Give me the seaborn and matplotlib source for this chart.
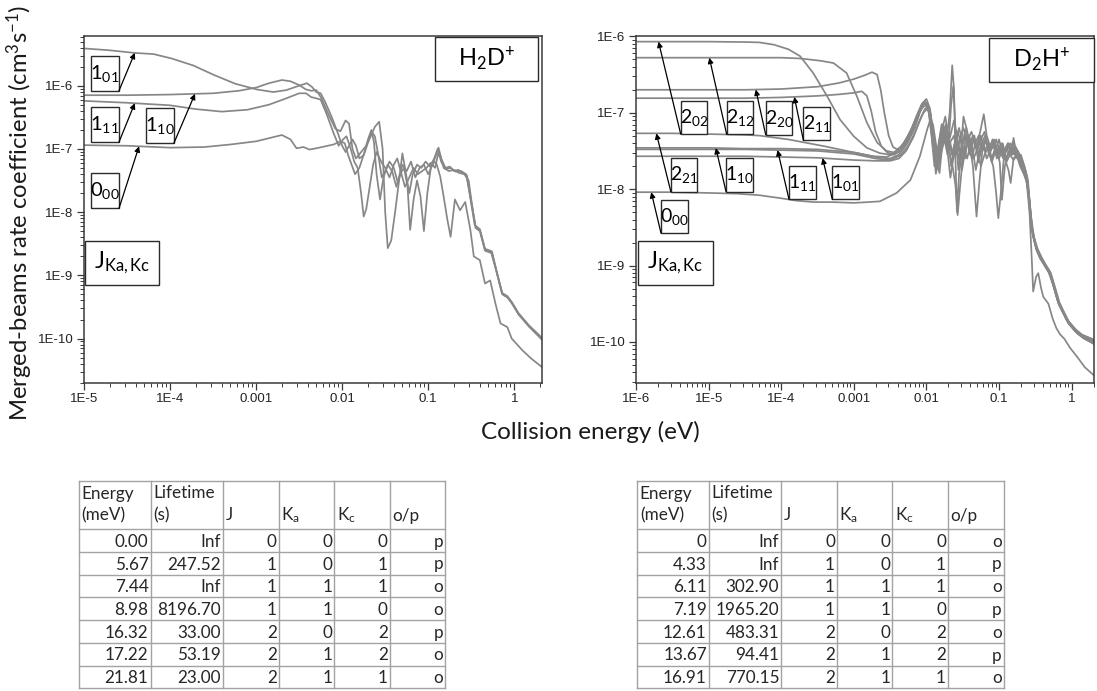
import numpy as np
import pandas as pd
import matplotlib
matplotlib.use("Agg")
import matplotlib.pyplot as plt
import seaborn as sns
from matplotlib.ticker import FixedLocator, FixedFormatter, LogLocator, NullFormatter
from matplotlib.patches import Rectangle

# ---------------------------------------------------------------------------
# Merged-beams rate coefficients, stored as log10(energy / eV), log10(k / cm^3 s^-1)
# ---------------------------------------------------------------------------

# H2D+ panel
h2d_101_logE = [-5.0, -4.7, -4.42, -4.19, -3.98, -3.73, -3.49, -3.24, -2.99, -2.80, -2.65, -2.50, -2.41, -2.35,
                -2.30, -2.25, -2.20, -2.12, -2.05, -2.00, -1.96, -1.92, -1.88, -1.84, -1.80, -1.75, -1.70, -1.62,
                -1.57, -1.53, -1.50, -1.47, -1.43, -1.38, -1.33, -1.30, -1.27, -1.22, -1.18, -1.13, -1.08, -1.03,
                -0.98, -0.93, -0.89, -0.86, -0.82, -0.76, -0.70, -0.64, -0.58, -0.53, -0.50, -0.45, -0.40, -0.34,
                -0.26, -0.20, -0.14, -0.08, -0.03, 0.05, 0.17, 0.33]
h2d_101_logk = [-5.41, -5.44, -5.48, -5.50, -5.57, -5.68, -5.83, -5.97, -6.06, -6.10, -6.07, -6.00, -5.96, -6.02,
                -6.10, -6.12, -6.25, -6.50, -6.75, -6.95, -7.05, -6.95, -6.85, -6.95, -7.15, -7.10, -6.90, -6.65,
                -6.57, -7.00, -8.00, -8.57, -8.45, -7.95, -7.40, -7.07, -7.30, -7.70, -7.40, -7.25, -7.30, -7.20,
                -7.28, -7.15, -7.00, -7.10, -7.30, -7.35, -7.33, -7.38, -7.40, -7.50, -7.80, -8.25, -8.30, -8.61,
                -8.65, -8.98, -9.30, -9.35, -9.44, -9.62, -9.81, -10.03]

h2d_110_logE = [-5.0, -4.5, -4.0, -3.5, -3.2, -3.0, -2.85, -2.70, -2.60, -2.50, -2.42, -2.36, -2.30, -2.24,
                -2.16, -2.08, -2.02, -1.96, -1.92, -1.88, -1.84, -1.78, -1.72, -1.66, -1.62, -1.58, -1.54, -1.50,
                -1.45, -1.40, -1.35, -1.30, -1.25, -1.20, -1.15, -1.10, -1.05, -1.00, -0.95, -0.91, -0.88, -0.85,
                -0.80, -0.75, -0.70, -0.65, -0.60, -0.55, -0.51, -0.45, -0.40, -0.34, -0.26, -0.20, -0.14, -0.08,
                -0.03, 0.05, 0.17, 0.33]
h2d_110_logk = [-6.15, -6.15, -6.14, -6.12, -6.08, -6.03, -5.96, -5.91, -5.93, -5.99, -6.06, -6.08, -6.07, -6.20,
                -6.45, -6.68, -6.72, -6.55, -6.60, -7.00, -7.15, -7.05, -6.95, -6.72, -6.80, -7.10, -7.45, -7.35,
                -7.20, -7.30, -7.55, -7.25, -7.35, -7.20, -7.45, -7.30, -7.25, -7.40, -7.25, -7.10, -6.98, -7.15,
                -7.30, -7.28, -7.35, -7.33, -7.38, -7.42, -7.76, -8.22, -8.27, -8.58, -8.62, -8.96, -9.28, -9.33,
                -9.42, -9.60, -9.79, -10.00]

h2d_111_logE = [-5.0, -4.5, -4.0, -3.7, -3.4, -3.1, -2.85, -2.65, -2.50, -2.42, -2.36, -2.30, -2.25, -2.18,
                -2.10, -2.04, -1.99, -1.95, -1.90, -1.86, -1.82, -1.78, -1.75, -1.72, -1.68, -1.64, -1.60, -1.54,
                -1.50, -1.45, -1.40, -1.36, -1.32, -1.27, -1.22, -1.17, -1.12, -1.07, -1.02, -0.97, -0.92, -0.88,
                -0.85, -0.80, -0.74, -0.68, -0.62, -0.56, -0.52, -0.46, -0.40, -0.34, -0.27, -0.20, -0.14, -0.08,
                -0.03, 0.05, 0.17, 0.33]
h2d_111_logk = [-6.24, -6.27, -6.31, -6.37, -6.41, -6.38, -6.30, -6.20, -6.12, -6.12, -6.18, -6.20, -6.22, -6.45,
                -6.75, -6.95, -6.85, -6.80, -7.00, -7.20, -7.30, -7.70, -8.07, -7.95, -7.60, -7.25, -7.05, -7.22,
                -7.30, -7.45, -7.25, -7.15, -7.35, -7.60, -7.45, -7.30, -7.40, -7.35, -7.30, -7.22, -7.30, -7.05,
                -7.20, -7.32, -7.30, -7.36, -7.35, -7.40, -7.70, -8.20, -8.28, -8.60, -8.63, -8.97, -9.29, -9.34,
                -9.43, -9.61, -9.80, -10.01]

h2d_000_logE = [-5.0, -4.5, -4.0, -3.6, -3.3, -3.0, -2.85, -2.70, -2.60, -2.53, -2.45, -2.38, -2.30, -2.20,
                -2.10, -2.02, -1.97, -1.93, -1.89, -1.85, -1.80, -1.74, -1.70, -1.66, -1.63, -1.60, -1.56, -1.52,
                -1.47, -1.42, -1.37, -1.33, -1.28, -1.24, -1.21, -1.17, -1.13, -1.09, -1.05, -1.01, -0.97, -0.93,
                -0.90, -0.86, -0.82, -0.78, -0.74, -0.69, -0.63, -0.57, -0.51, -0.47, -0.40, -0.34, -0.28, -0.22,
                -0.16, -0.08, -0.03, 0.09, 0.20, 0.33]
h2d_000_logk = [-6.94, -6.95, -6.98, -6.97, -6.93, -6.88, -6.83, -6.78, -6.85, -6.99, -6.97, -7.01, -6.99, -6.96,
                -6.93, -6.88, -6.91, -7.10, -7.25, -7.40, -7.30, -7.05, -6.85, -6.70, -6.90, -7.40, -7.80, -7.45,
                -7.25, -7.35, -7.60, -7.40, -7.30, -7.60, -8.28, -7.80, -7.50, -7.75, -8.30, -7.70, -7.30, -7.20,
                -7.25, -7.44, -7.76, -8.10, -8.39, -7.80, -7.97, -7.84, -8.28, -8.70, -8.76, -9.13, -9.08, -9.44,
                -9.76, -9.82, -10.00, -10.18, -10.32, -10.46]

# D2H+ panel
d2h_202_logE = [-6.0, -5.5, -5.0, -4.5, -4.3, -4.1, -3.9, -3.74, -3.56, -3.37, -3.19, -3.00, -2.82, -2.64,
                -2.50, -2.40, -2.30, -2.20, -2.12, -2.06, -2.00, -1.95, -1.90, -1.86, -1.82, -1.78, -1.74, -1.70,
                -1.65, -1.60, -1.55, -1.50, -1.45, -1.40, -1.35, -1.30, -1.25, -1.20, -1.15, -1.10, -1.05, -1.00,
                -0.95, -0.90, -0.85, -0.80, -0.75, -0.70, -0.65, -0.61, -0.57, -0.53, -0.48, -0.42, -0.36, -0.30,
                -0.24, -0.18, -0.12, -0.05, 0.05, 0.15, 0.31]
d2h_202_logk = [-6.07, -6.07, -6.07, -6.075, -6.08, -6.11, -6.17, -6.26, -6.48, -6.78, -7.09, -7.31, -7.46, -7.53,
                -7.55, -7.50, -7.38, -7.20, -7.02, -6.88, -6.82, -6.95, -7.40, -7.75, -7.50, -7.20, -7.05, -7.30,
                -7.55, -7.35, -7.20, -7.40, -7.30, -7.55, -7.35, -7.45, -7.30, -7.50, -7.40, -7.60, -7.45, -7.55,
                -7.40, -7.60, -7.50, -7.45, -7.60, -7.55, -7.70, -7.85, -8.40, -8.60, -8.80, -8.90, -9.00, -9.10,
                -9.30, -9.50, -9.60, -9.74, -9.85, -9.93, -10.00]

d2h_212_logE = [-6.0, -5.0, -4.5, -4.0, -3.74, -3.46, -3.28, -3.10, -2.96, -2.82, -2.68, -2.55, -2.45, -2.35,
                -2.25, -2.15, -2.08, -2.03, -1.98, -1.94, -1.90, -1.86, -1.82, -1.77, -1.72, -1.68, -1.645, -1.62,
                -1.60, -1.58, -1.55, -1.50, -1.45, -1.40, -1.35, -1.30, -1.25, -1.20, -1.15, -1.10, -1.05, -1.00,
                -0.95, -0.90, -0.85, -0.80, -0.75, -0.70, -0.65, -0.60, -0.56, -0.52, -0.47, -0.41, -0.35, -0.29,
                -0.23, -0.17, -0.11, -0.04, 0.06, 0.16, 0.31]
d2h_212_logk = [-6.28, -6.28, -6.28, -6.28, -6.29, -6.32, -6.35, -6.48, -6.78, -7.13, -7.39, -7.50, -7.52, -7.45,
                -7.30, -7.10, -6.95, -6.88, -6.92, -7.10, -7.50, -7.65, -7.35, -7.15, -7.35, -7.00, -6.38, -6.70,
                -7.60, -8.30, -7.80, -7.40, -7.20, -7.40, -7.30, -7.50, -7.35, -7.25, -7.45, -7.40, -7.50, -7.35,
                -7.55, -7.45, -7.55, -7.40, -7.50, -7.62, -7.72, -7.90, -8.45, -8.65, -8.82, -8.92, -9.02, -9.12,
                -9.32, -9.52, -9.62, -9.76, -9.87, -9.95, -10.02]

d2h_220_logE = [-6.0, -5.0, -4.5, -4.0, -3.5, -3.2, -3.0, -2.85, -2.75, -2.68, -2.63, -2.58, -2.52, -2.46,
                -2.40, -2.32, -2.22, -2.14, -2.07, -2.02, -1.97, -1.93, -1.89, -1.85, -1.80, -1.75, -1.70, -1.66,
                -1.63, -1.60, -1.56, -1.52, -1.47, -1.42, -1.37, -1.33, -1.28, -1.23, -1.18, -1.13, -1.08, -1.03,
                -0.98, -0.93, -0.88, -0.83, -0.78, -0.73, -0.68, -0.63, -0.59, -0.55, -0.50, -0.45, -0.39, -0.33,
                -0.27, -0.21, -0.15, -0.09, -0.02, 0.08, 0.18, 0.31]
d2h_220_logk = [-6.70, -6.70, -6.70, -6.69, -6.66, -6.61, -6.56, -6.51, -6.47, -6.50, -6.70, -7.00, -7.30, -7.45,
                -7.48, -7.42, -7.25, -7.05, -6.90, -6.85, -6.98, -7.30, -7.70, -7.55, -7.25, -7.35, -7.50, -6.90,
                -6.65, -7.20, -7.75, -7.50, -7.25, -7.45, -7.60, -7.40, -7.30, -7.50, -7.35, -7.50, -7.40, -7.60,
                -7.45, -7.50, -7.40, -7.55, -7.45, -7.58, -7.65, -7.78, -8.10, -8.50, -8.72, -8.85, -8.95, -9.05,
                -9.18, -9.38, -9.55, -9.66, -9.78, -9.89, -9.96, -10.03]

d2h_211_logE = [-6.0, -5.0, -4.5, -4.0, -3.5, -3.2, -3.0, -2.89, -2.82, -2.76, -2.70, -2.62, -2.54, -2.45,
                -2.35, -2.25, -2.16, -2.09, -2.04, -1.99, -1.95, -1.91, -1.87, -1.83, -1.78, -1.73, -1.68, -1.62,
                -1.58, -1.54, -1.49, -1.44, -1.39, -1.34, -1.29, -1.24, -1.19, -1.14, -1.09, -1.04, -0.99, -0.94,
                -0.89, -0.84, -0.79, -0.74, -0.69, -0.64, -0.60, -0.56, -0.52, -0.47, -0.41, -0.35, -0.29, -0.23,
                -0.17, -0.11, -0.04, 0.06, 0.16, 0.31]
d2h_211_logk = [-6.81, -6.81, -6.81, -6.80, -6.78, -6.76, -6.74, -6.72, -6.78, -6.98, -7.25, -7.44, -7.52, -7.55,
                -7.50, -7.35, -7.15, -6.98, -6.92, -6.90, -7.05, -7.40, -7.80, -7.60, -7.30, -7.15, -7.40, -7.30,
                -7.55, -7.35, -7.20, -7.35, -7.50, -7.30, -7.55, -7.40, -7.30, -7.55, -7.45, -7.35, -7.50, -7.60,
                -7.45, -7.40, -7.55, -7.50, -7.60, -7.75, -7.95, -8.35, -8.62, -8.78, -8.90, -9.00, -9.09, -9.28,
                -9.48, -9.60, -9.73, -9.84, -9.92, -9.99]

d2h_221_logE = [-6.0, -5.5, -5.0, -4.5, -4.3, -3.9, -3.4, -3.0, -2.73, -2.55, -2.42, -2.30, -2.20, -2.12,
                -2.06, -2.01, -1.96, -1.92, -1.88, -1.84, -1.79, -1.74, -1.69, -1.64, -1.60, -1.57, -1.54, -1.49,
                -1.45, -1.40, -1.36, -1.31, -1.27, -1.23, -1.18, -1.13, -1.08, -1.04, -1.01, -0.97, -0.93, -0.88,
                -0.83, -0.80, -0.76, -0.71, -0.66, -0.62, -0.58, -0.55, -0.53, -0.49, -0.46, -0.42, -0.39, -0.32,
                -0.26, -0.21, -0.16, -0.10, -0.02, 0.08, 0.18, 0.31]
d2h_221_logk = [-7.27, -7.27, -7.28, -7.29, -7.30, -7.35, -7.44, -7.52, -7.57, -7.58, -7.53, -7.42, -7.25, -7.05,
                -6.90, -6.87, -7.00, -7.25, -7.60, -7.45, -7.15, -7.25, -7.50, -7.70, -7.95, -8.34, -8.00, -7.50,
                -7.30, -7.45, -7.70, -8.36, -7.90, -7.50, -7.35, -7.55, -7.70, -8.05, -8.38, -8.00, -7.55, -7.45,
                -7.50, -7.33, -7.55, -7.70, -7.80, -7.90, -8.30, -8.90, -9.34, -9.15, -9.10, -9.30, -9.41, -9.50,
                -9.70, -9.82, -9.90, -9.96, -10.08, -10.20, -10.33, -10.44]

d2h_110_logE = [-6.0, -5.0, -4.5, -4.0, -3.5, -3.0, -2.7, -2.5, -2.38, -2.26, -2.16, -2.09, -2.03, -1.99,
                -1.95, -1.91, -1.87, -1.83, -1.79, -1.75, -1.71, -1.67, -1.62, -1.58, -1.53, -1.49, -1.45, -1.41,
                -1.36, -1.31, -1.26, -1.21, -1.17, -1.12, -1.07, -1.02, -0.97, -0.92, -0.87, -0.82, -0.77, -0.72,
                -0.67, -0.62, -0.58, -0.54, -0.49, -0.43, -0.37, -0.31, -0.25, -0.19, -0.13, -0.06, 0.04, 0.14, 0.31]
d2h_110_logk = [-7.46, -7.46, -7.47, -7.47, -7.48, -7.52, -7.58, -7.60, -7.55, -7.40, -7.20, -7.00, -6.86, -6.88,
                -7.10, -7.45, -7.70, -7.50, -7.30, -7.20, -7.45, -7.30, -7.10, -7.30, -7.55, -7.05, -7.20, -7.45,
                -7.30, -7.45, -7.25, -7.02, -7.30, -7.45, -7.35, -7.50, -7.40, -7.55, -7.40, -7.50, -7.45, -7.55,
                -7.68, -7.82, -8.20, -8.55, -8.75, -8.88, -8.98, -9.07, -9.25, -9.46, -9.58, -9.72, -9.83, -9.91, -9.98]

d2h_111_logE = [-6.0, -5.0, -4.5, -4.0, -3.5, -3.0, -2.7, -2.5, -2.36, -2.24, -2.14, -2.07, -2.02, -1.98,
                -1.94, -1.90, -1.86, -1.82, -1.78, -1.74, -1.70, -1.66, -1.62, -1.57, -1.52, -1.47, -1.43, -1.38,
                -1.33, -1.28, -1.24, -1.19, -1.14, -1.09, -1.04, -0.99, -0.96, -0.92, -0.87, -0.82, -0.77, -0.72,
                -0.67, -0.63, -0.59, -0.55, -0.51, -0.46, -0.40, -0.34, -0.28, -0.22, -0.16, -0.10, -0.03, 0.07,
                0.17, 0.31]
d2h_111_logk = [-7.48, -7.48, -7.48, -7.49, -7.50, -7.54, -7.60, -7.62, -7.56, -7.42, -7.22, -7.05, -6.95, -6.92,
                -7.02, -7.35, -7.62, -7.79, -7.40, -7.20, -7.35, -7.70, -7.45, -7.25, -7.40, -7.60, -7.35, -7.25,
                -7.40, -7.65, -7.45, -7.35, -7.50, -7.35, -7.45, -7.65, -8.14, -7.70, -7.50, -7.55, -7.50, -7.62,
                -7.74, -7.85, -8.05, -8.48, -8.68, -8.83, -8.93, -9.03, -9.14, -9.34, -9.52, -9.63, -9.77, -9.88,
                -9.95, -10.01]

d2h_101_logE = [-6.0, -5.0, -4.5, -4.0, -3.5, -3.0, -2.7, -2.5, -2.38, -2.28, -2.18, -2.10, -2.04, -1.99,
                -1.95, -1.91, -1.87, -1.83, -1.79, -1.75, -1.71, -1.67, -1.63, -1.59, -1.55, -1.51, -1.46, -1.41,
                -1.36, -1.32, -1.27, -1.22, -1.17, -1.12, -1.07, -1.02, -0.97, -0.92, -0.87, -0.84, -0.80, -0.76,
                -0.71, -0.66, -0.62, -0.58, -0.54, -0.49, -0.44, -0.38, -0.32, -0.26, -0.20, -0.14, -0.07, 0.03,
                0.13, 0.31]
d2h_101_logk = [-7.57, -7.57, -7.57, -7.58, -7.59, -7.62, -7.63, -7.63, -7.60, -7.50, -7.32, -7.12, -7.00, -6.95,
                -7.00, -7.20, -7.50, -7.70, -7.45, -7.30, -7.50, -7.85, -7.60, -7.35, -7.50, -7.75, -7.45, -7.30,
                -7.50, -7.75, -7.50, -7.40, -7.60, -7.50, -7.40, -7.55, -7.45, -7.60, -7.75, -7.92, -7.60, -7.55,
                -7.65, -7.78, -7.88, -8.15, -8.58, -8.78, -8.90, -8.99, -9.08, -9.24, -9.44, -9.57, -9.71, -9.82,
                -9.90, -9.97]

d2h_000_logE = [-6.0, -5.5, -5.0, -4.6, -4.3, -4.0, -3.8, -3.55, -3.3, -3.0, -2.8, -2.64, -2.41, -2.22,
                -2.09, -1.99, -1.95, -1.91, -1.87, -1.83, -1.79, -1.75, -1.71, -1.67, -1.63, -1.59, -1.54, -1.49,
                -1.44, -1.39, -1.35, -1.30, -1.25, -1.20, -1.15, -1.10, -1.05, -1.00, -0.95, -0.90, -0.85, -0.80,
                -0.75, -0.70, -0.65, -0.61, -0.57, -0.53, -0.48, -0.42, -0.36, -0.30, -0.24, -0.18, -0.12, -0.05,
                0.05, 0.15, 0.31]
d2h_000_logk = [-8.04, -8.04, -8.05, -8.06, -8.08, -8.12, -8.15, -8.17, -8.17, -8.18, -8.17, -8.16, -8.05, -7.88,
                -7.57, -7.22, -7.10, -7.15, -7.40, -7.65, -7.50, -7.35, -7.55, -7.40, -7.60, -7.45, -7.65, -7.45,
                -7.60, -7.40, -7.60, -7.48, -7.70, -7.55, -7.45, -7.65, -7.50, -7.60, -7.48, -7.65, -7.55, -7.62,
                -7.55, -7.68, -7.80, -7.95, -8.30, -8.62, -8.80, -8.92, -9.02, -9.11, -9.30, -9.50, -9.62, -9.75,
                -9.86, -9.94, -10.01]

# Axis ticks
h2d_xticks = [1e-5, 1e-4, 1e-3, 1e-2, 1e-1, 1]
h2d_xlabels = ["1E-5", "1E-4", "0.001", "0.01", "0.1", "1"]
d2h_xticks = [1e-6, 1e-5, 1e-4, 1e-3, 1e-2, 1e-1, 1]
d2h_xlabels = ["1E-6", "1E-5", "1E-4", "0.001", "0.01", "0.1", "1"]
yticks = [1e-10, 1e-9, 1e-8, 1e-7, 1e-6]
ylabels = ["1E-10", "1E-9", "1E-8", "1E-7", "1E-6"]

# Level tables
table_cols = ["Energy\n(meV)", "Lifetime\n(s)", "J", "K$_{a}$", "K$_{c}$", "o/p"]
h2d_level_energy = ["0.00", "5.67", "7.44", "8.98", "16.32", "17.22", "21.81"]
h2d_lifetime = ["Inf", "247.52", "Inf", "8196.70", "33.00", "53.19", "23.00"]
h2d_op = ["p", "p", "o", "o", "p", "o", "o"]
d2h_level_energy = ["0", "4.33", "6.11", "7.19", "12.61", "13.67", "16.91"]
d2h_lifetime = ["Inf", "Inf", "302.90", "1965.20", "483.31", "94.41", "770.15"]
d2h_op = ["o", "p", "o", "p", "o", "p", "o"]
level_J = [0, 1, 1, 1, 2, 2, 2]
level_Ka = [0, 0, 1, 1, 0, 1, 1]
level_Kc = [0, 1, 1, 0, 2, 2, 1]

# ---------------------------------------------------------------------------
# Style
# ---------------------------------------------------------------------------
sns.set_style("ticks")
plt.rcParams["font.family"] = ["Lato", "DejaVu Sans"]
plt.rcParams["mathtext.fontset"] = "custom"
plt.rcParams["mathtext.rm"] = "Lato"
plt.rcParams["mathtext.it"] = "Lato:italic"
plt.rcParams["mathtext.bf"] = "Lato:bold"
plt.rcParams["mathtext.default"] = "regular"

LINE = "#878787"
SPINE = "#3a3a3a"
GRID = "#a3a3a3"
TICK_FONT = ["Liberation Sans Narrow", "Liberation Sans"]

W, H = 1097, 691
fig = plt.figure(figsize=(W / 100, H / 100), dpi=100)
fig.patch.set_facecolor("white")

ax1 = fig.add_axes([84 / W, 1 - 383 / H, 458 / W, 346.7 / H])
ax2 = fig.add_axes([636 / W, 1 - 383 / H, 457.5 / W, 346.7 / H])


def draw_curves(ax, curves):
    frames = []
    for state, le, lk in curves:
        frames.append(pd.DataFrame({"state": state,
                                    "energy": np.power(10.0, le),
                                    "rate": np.power(10.0, lk)}))
    df = pd.concat(frames, ignore_index=True)
    sns.lineplot(data=df, x="energy", y="rate", units="state", estimator=None,
                 sort=False, color=LINE, linewidth=1.25, ax=ax, legend=False)


def style_axes(ax, xlim, ylim, xticks, xlabels):
    ax.set_xscale("log")
    ax.set_yscale("log")
    ax.set_xlim(*xlim)
    ax.set_ylim(*ylim)
    ax.xaxis.set_major_locator(FixedLocator(xticks))
    ax.xaxis.set_major_formatter(FixedFormatter(xlabels))
    ax.yaxis.set_major_locator(FixedLocator(yticks))
    ax.yaxis.set_major_formatter(FixedFormatter(ylabels))
    for axis in (ax.xaxis, ax.yaxis):
        axis.set_minor_locator(LogLocator(base=10, subs=np.arange(2, 10), numticks=30))
        axis.set_minor_formatter(NullFormatter())
    ax.set_xlabel("")
    ax.set_ylabel("")
    for sp in ax.spines.values():
        sp.set_visible(True)
        sp.set_color(SPINE)
        sp.set_linewidth(1.1)
    ax.tick_params(which="major", direction="out", length=5, width=0.9, color=SPINE,
                   labelsize=9.5, pad=2.5, labelcolor="#222222", labelfontfamily=TICK_FONT)
    ax.tick_params(which="minor", direction="out", length=2.8, width=0.7, color=SPINE)
    ax.set_facecolor("white")


def state_box(ax, text, cx, cy, w, h, size):
    ax.add_patch(Rectangle((cx - w / 2, cy - h / 2), w, h, transform=ax.transAxes,
                           facecolor="white", edgecolor="#2b2b2b", linewidth=1.0, zorder=5,
                           clip_on=False))
    ax.text(cx, cy, text, transform=ax.transAxes, ha="center", va="center",
            fontsize=size, color="black", zorder=6)


def pointer(ax, curve, log_e, corner):
    le, lk = curve
    ax.annotate("", xy=(10 ** log_e, 10 ** np.interp(log_e, le, lk)), xycoords="data",
                xytext=corner, textcoords="axes fraction",
                arrowprops=dict(arrowstyle="-|>", color="black", lw=0.9,
                                shrinkA=0, shrinkB=0, mutation_scale=8),
                zorder=7)


# ---------------------------------------------------------------------------
# H2D+
# ---------------------------------------------------------------------------
draw_curves(ax1, [("0_00", h2d_000_logE, h2d_000_logk),
                  ("1_01", h2d_101_logE, h2d_101_logk),
                  ("1_11", h2d_111_logE, h2d_111_logk),
                  ("1_10", h2d_110_logE, h2d_110_logk)])
style_axes(ax1, (1e-5, 2.1), (1.98e-11, 6.05e-6), h2d_xticks, h2d_xlabels)

bw, bh = 0.0618, 0.101
for text, cx, cy, curve, tip in [
        ("1$_{01}$", 0.0455, 0.8935, (h2d_101_logE, h2d_101_logk), -4.41),
        ("1$_{11}$", 0.0455, 0.7455, (h2d_111_logE, h2d_111_logk), -4.41),
        ("1$_{10}$", 0.1656, 0.743, (h2d_110_logE, h2d_110_logk), -3.71),
        ("0$_{00}$", 0.0455, 0.5545, (h2d_000_logE, h2d_000_logk), -4.36)]:
    state_box(ax1, text, cx, cy, bw, bh, 14.5)
    pointer(ax1, curve, tip, (cx + bw / 2, cy - bh / 2))

state_box(ax1, "H$_{2}$D$^{+}$", 0.879, 0.934, 0.2266, 0.126, 17)
state_box(ax1, "J$_{\\mathrm{Ka,Kc}}$", 0.0827, 0.346, 0.1627, 0.128, 17)

# ---------------------------------------------------------------------------
# D2H+
# ---------------------------------------------------------------------------
draw_curves(ax2, [("0_00", d2h_000_logE, d2h_000_logk),
                  ("1_01", d2h_101_logE, d2h_101_logk),
                  ("1_11", d2h_111_logE, d2h_111_logk),
                  ("1_10", d2h_110_logE, d2h_110_logk),
                  ("2_02", d2h_202_logE, d2h_202_logk),
                  ("2_12", d2h_212_logE, d2h_212_logk),
                  ("2_11", d2h_211_logE, d2h_211_logk),
                  ("2_21", d2h_221_logE, d2h_221_logk),
                  ("2_20", d2h_220_logE, d2h_220_logk)])
style_axes(ax2, (1e-6, 2.0), (2.9e-11, 1e-6), d2h_xticks, d2h_xlabels)

bw2, bh2 = 0.0582, 0.096
for text, cx, cy, curve, tip in [
        ("2$_{02}$", 0.1268, 0.766, (d2h_202_logE, d2h_202_logk), -5.69),
        ("2$_{12}$", 0.2273, 0.765, (d2h_212_logE, d2h_212_logk), -4.99),
        ("2$_{20}$", 0.3126, 0.764, (d2h_220_logE, d2h_220_logk), -4.35),
        ("2$_{11}$", 0.3950, 0.748, (d2h_211_logE, d2h_211_logk), -3.82),
        ("2$_{21}$", 0.1052, 0.600, (d2h_221_logE, d2h_221_logk), -5.72),
        ("1$_{10}$", 0.2259, 0.600, (d2h_110_logE, d2h_110_logk), -4.90),
        ("1$_{11}$", 0.3636, 0.5775, (d2h_111_logE, d2h_111_logk), -4.05),
        ("1$_{01}$", 0.4582, 0.5775, (d2h_101_logE, d2h_101_logk), -3.43),
        ("0$_{00}$", 0.0838, 0.480, (d2h_000_logE, d2h_000_logk), -5.79)]:
    state_box(ax2, text, cx, cy, bw2, bh2, 14)
    pointer(ax2, curve, tip, (cx - bw2 / 2, cy - bh2 / 2))

state_box(ax2, "D$_{2}$H$^{+}$", 0.8858, 0.9315, 0.2284, 0.125, 17)
state_box(ax2, "J$_{\\mathrm{Ka,Kc}}$", 0.086, 0.346, 0.1646, 0.128, 17)

# Shared axis titles
fig.text(20 / W, 1 - 213 / H, "Merged-beams rate coefficient (cm$^{3}$s$^{-1}$)",
         rotation=90, ha="center", va="center", fontsize=17.2, color="#1a1a1a")
fig.text(590 / W, 1 - 432 / H, "Collision energy (eV)", ha="center", va="center",
         fontsize=17.5, color="#1a1a1a")


# ---------------------------------------------------------------------------
# Level tables
# ---------------------------------------------------------------------------
def draw_table(x0_px, energies, lifetimes, js, kas, kcs, ops):
    col_w = [71.5, 72.5, 55.7, 55.5, 55.6, 55.6]
    head_h, row_h = 48.0, 22.75
    n = len(energies)
    total_w = sum(col_w)
    total_h = head_h + row_h * n
    top_px = 481.0
    ax = fig.add_axes([x0_px / W, 1 - (top_px + total_h) / H, total_w / W, total_h / H])
    ax.set_xlim(0, total_w)
    ax.set_ylim(total_h, 0)
    ax.axis("off")
    xs = np.concatenate([[0.0], np.cumsum(col_w)])
    ys = [0.0] + [head_h + row_h * i for i in range(n + 1)]
    for x in xs:
        ax.plot([x, x], [0, total_h], color=GRID, lw=1.0, clip_on=False, solid_capstyle="projecting")
    for y in ys:
        ax.plot([0, total_w], [y, y], color=GRID, lw=1.0, clip_on=False, solid_capstyle="projecting")
    fs = 12.3
    for j, head in enumerate(table_cols):
        lines = head.split("\n")
        if len(lines) == 2:
            ax.text(xs[j] + 2.5, 17.5, lines[0], ha="left", va="baseline", fontsize=fs)
            ax.text(xs[j] + 2.5, 39.5, lines[1], ha="left", va="baseline", fontsize=fs)
        else:
            ax.text(xs[j] + 2.5, 39.5, head, ha="left", va="baseline", fontsize=fs)
    for i in range(n):
        base = head_h + row_h * (i + 1) - 5.0
        cells = [energies[i], lifetimes[i], str(js[i]), str(kas[i]), str(kcs[i]), ops[i]]
        for j, val in enumerate(cells):
            ax.text(xs[j + 1] - 2.0, base, val, ha="right", va="baseline", fontsize=fs)


draw_table(79.0, h2d_level_energy, h2d_lifetime, level_J, level_Ka, level_Kc, h2d_op)
draw_table(637.3, d2h_level_energy, d2h_lifetime, level_J, level_Ka, level_Kc, d2h_op)

fig.savefig("out.png", dpi=100, facecolor="white")
